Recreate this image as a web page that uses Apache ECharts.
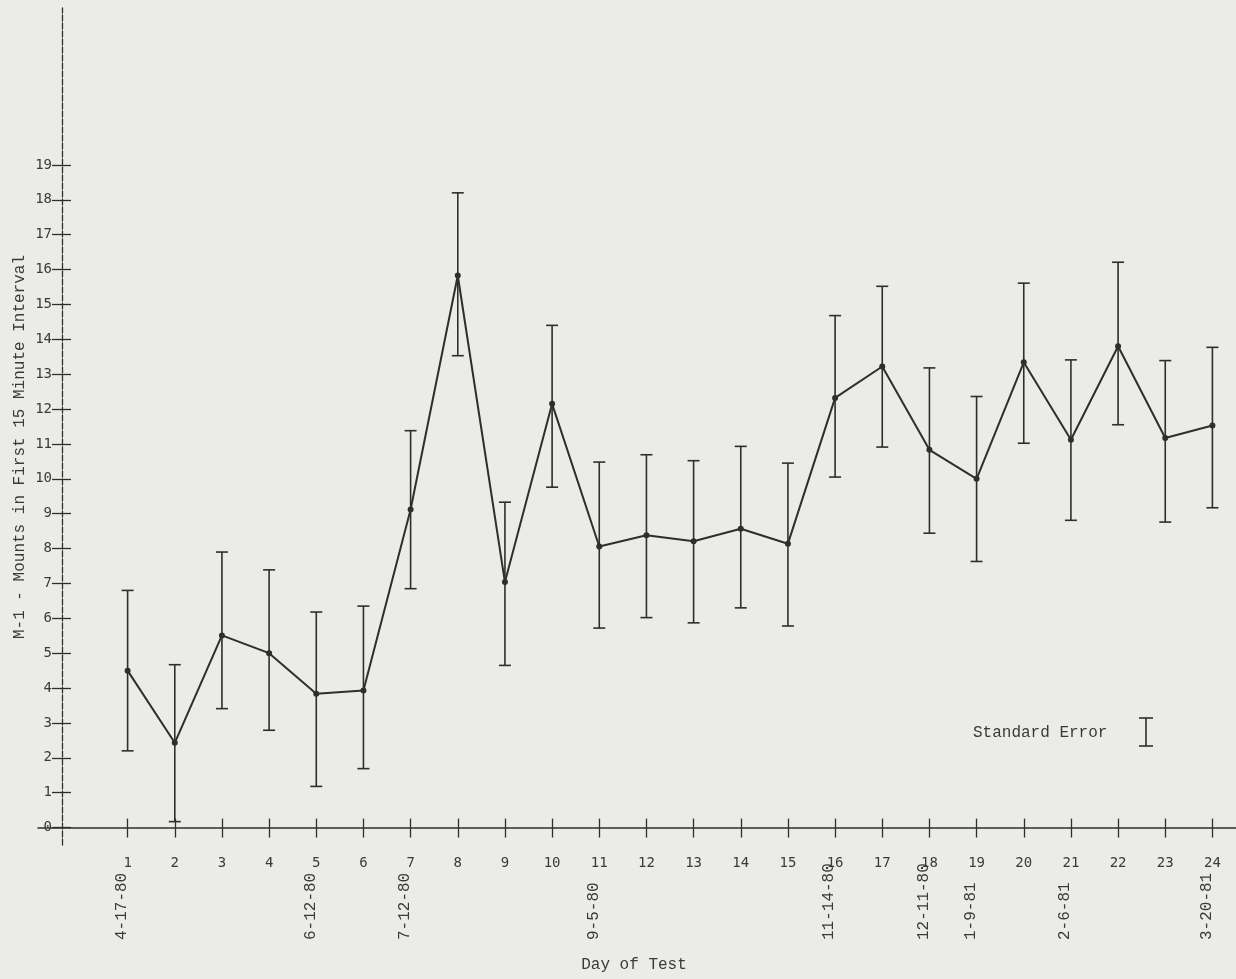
<!DOCTYPE html>
<html>
<head>
<meta charset="utf-8">
<script src="https://cdn.jsdelivr.net/npm/echarts@6/dist/echarts.min.js"></script>
<style>
html,body{margin:0;padding:0;background:#ebebe8;}
#chart{width:1236px;height:979px;}
</style>
</head>
<body>
<div id="chart"></div>
<script>
// ---- data ----
const days = [1,2,3,4,5,6,7,8,9,10,11,12,13,14,15,16,17,18,19,20,21,22,23,24];
const dayLabels = ['1','2','3','4','5','6','7','8','9','10','11','12','13','14','15','16','17','18','19','20','21','22','23','24'];
const meanMounts = [4.5, 2.43, 5.51, 5.0, 3.84, 3.93, 9.12, 15.83, 7.04, 12.15, 8.06, 8.38, 8.21, 8.57, 8.14, 12.32, 13.22, 10.83, 10.0, 13.34, 11.12, 13.8, 11.17, 11.53];
const upperSE = [6.8, 4.67, 7.9, 7.39, 6.18, 6.35, 11.38, 18.2, 9.33, 14.4, 10.48, 10.69, 10.52, 10.93, 10.45, 14.68, 15.52, 13.18, 12.36, 15.61, 13.41, 16.21, 13.39, 13.77];
const lowerSE = [2.2, 0.17, 3.41, 2.79, 1.18, 1.69, 6.85, 13.53, 4.65, 9.76, 5.72, 6.02, 5.87, 6.30, 5.78, 10.05, 10.91, 8.44, 7.63, 11.02, 8.81, 11.55, 8.76, 9.17];
const dateDays = [1, 5, 7, 11, 16, 18, 19, 21, 24];
const dateLabels = ['4-17-80', '6-12-80', '7-12-80', '9-5-80', '11-14-80', '12-11-80', '1-9-81', '2-6-81', '3-20-81'];
const yTicks = [0,1,2,3,4,5,6,7,8,9,10,11,12,13,14,15,16,17,18,19];
const yTitle = 'M-1 - Mounts in First 15 Minute Interval';
const xTitle = 'Day of Test';
const legendText = 'Standard Error';

// ---- chart ----
const INK = '#2e2e2e';
const TXT = '#3a3a3a';
const MONO = '"Liberation Mono", "DejaVu Sans Mono", monospace';
const chart = echarts.init(document.getElementById('chart'), null, {renderer: 'canvas'});

const dateMap = {};
dateDays.forEach((d, i) => { dateMap[d] = dateLabels[i]; });

const option = {
  backgroundColor: '#ebebe8',
  animation: false,
  grid: {left: 38, right: 0, top: 8, bottom: 134, containLabel: false, outerBoundsMode: 'none'},
  xAxis: [
    {
      type: 'value', min: -0.9, max: 24.5, position: 'bottom',
      axisLine: {show: true, onZero: true, onZeroAxisIndex: 0, lineStyle: {color: INK, width: 1.5}},
      axisTick: {show: true, inside: false, length: 10, customValues: days, lineStyle: {color: INK, width: 1.3}},
      axisLabel: {show: true, customValues: days, margin: 11,
        formatter: v => dayLabels[days.indexOf(Math.round(v))] || '',
        fontFamily: '"DejaVu Sans Mono", monospace', fontSize: 14, color: TXT},
      splitLine: {show: false}
    },
    {
      type: 'value', min: -0.9, max: 24.5, position: 'bottom',
      axisLine: {show: false, onZero: true, onZeroAxisIndex: 0},
      axisTick: {show: true, inside: true, length: 9, customValues: days, lineStyle: {color: INK, width: 1.3}},
      axisLabel: {show: false},
      splitLine: {show: false}
    },
    {
      type: 'value', min: -0.9, max: 24.5, position: 'bottom',
      axisLine: {show: false, onZero: false},
      axisTick: {show: false},
      axisLabel: {show: true, customValues: dateDays, rotate: 90, margin: 95,
        align: 'left', verticalAlign: 'bottom', lineHeight: 12,
        formatter: v => dateMap[Math.round(v)] || '',
        fontFamily: MONO, fontSize: 16, color: TXT},
      splitLine: {show: false}
    }
  ],
  yAxis: [
    {
      type: 'value', min: -0.5, max: 23.5, offset: -24, position: 'left',
      axisLine: {show: true, onZero: false, lineStyle: {color: INK, width: 1.3, type: [6, 2]}},
      axisTick: {show: true, inside: false, length: 10, customValues: yTicks, lineStyle: {color: INK, width: 1.3}},
      axisLabel: {show: true, customValues: yTicks, margin: 10,
        fontFamily: '"DejaVu Sans Mono", monospace', fontSize: 14, color: TXT},
      splitLine: {show: false}
    },
    {
      type: 'value', min: -0.5, max: 23.5, offset: -24, position: 'left',
      axisLine: {show: false, onZero: false},
      axisTick: {show: true, inside: true, length: 9, customValues: yTicks, lineStyle: {color: INK, width: 1.3}},
      axisLabel: {show: false},
      splitLine: {show: false}
    }
  ],
  graphic: [
    {
      type: 'text', x: 20, y: 447, rotation: Math.PI / 2,
      style: {text: yTitle, font: '16px ' + MONO, fill: TXT, align: 'center', verticalAlign: 'middle'}
    },
    {
      type: 'text', x: 634, y: 965,
      style: {text: xTitle, font: '16px ' + MONO, fill: TXT, align: 'center', verticalAlign: 'middle'}
    },
    {
      type: 'text', x: 973, y: 733,
      style: {text: legendText, font: '16px ' + MONO, fill: TXT, align: 'left', verticalAlign: 'middle'}
    },
    {
      type: 'group', x: 1146, y: 718,
      children: [
        {type: 'line', shape: {x1: 0, y1: 0, x2: 0, y2: 28}, style: {stroke: INK, lineWidth: 1.6}},
        {type: 'line', shape: {x1: -7, y1: 0, x2: 7, y2: 0}, style: {stroke: INK, lineWidth: 1.6}},
        {type: 'line', shape: {x1: -7, y1: 28, x2: 7, y2: 28}, style: {stroke: INK, lineWidth: 1.6}}
      ]
    }
  ],
  series: [
    {
      type: 'custom',
      xAxisIndex: 0, yAxisIndex: 0,
      data: days.map((d, i) => [d, upperSE[i], lowerSE[i]]),
      encode: {x: 0, y: [1, 2]},
      renderItem: function (params, api) {
        const x = api.value(0);
        const top = api.coord([x, api.value(1)]);
        const bot = api.coord([x, api.value(2)]);
        const hw = 6;
        const st = {stroke: INK, lineWidth: 1.6};
        return {
          type: 'group',
          children: [
            {type: 'line', shape: {x1: top[0], y1: top[1], x2: bot[0], y2: bot[1]}, style: st},
            {type: 'line', shape: {x1: top[0] - hw, y1: top[1], x2: top[0] + hw, y2: top[1]}, style: st},
            {type: 'line', shape: {x1: bot[0] - hw, y1: bot[1], x2: bot[0] + hw, y2: bot[1]}, style: st}
          ]
        };
      },
      z: 2
    },
    {
      type: 'line',
      xAxisIndex: 0, yAxisIndex: 0,
      data: days.map((d, i) => [d, meanMounts[i]]),
      symbol: 'circle', symbolSize: 6,
      itemStyle: {color: INK},
      lineStyle: {color: INK, width: 2},
      z: 3
    }
  ]
};
chart.setOption(option);
</script>
</body>
</html>
